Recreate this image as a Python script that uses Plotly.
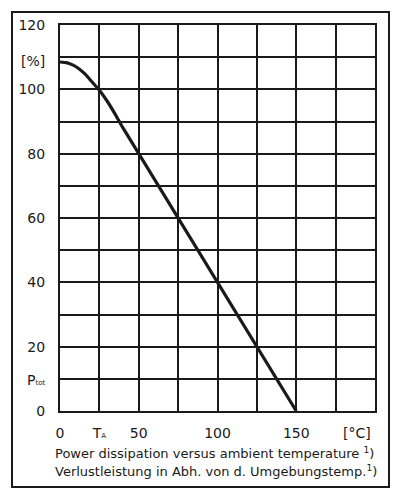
import plotly.graph_objects as go

# Data
temp_c = [0, 4, 8, 12, 16, 20, 25, 30, 35, 40, 150]
ptot_pct = [108.5, 108.3, 107.6, 106.4, 104.7, 102.5, 99.7, 96.3, 92.3, 88.0, 0]

grid_x = [0, 25, 50, 75, 100, 125, 150, 175, 200]
grid_y = [0, 10, 20, 30, 40, 50, 60, 70, 80, 90, 100, 110, 120]

x_tickvals = [0, 25, 50, 100, 150, 188.5]
x_ticktext = ["0", "T<span style='font-size:7px'>A</span>", "50", "100", "150", "[°C]"]
y_tickvals = [0, 9.6, 20, 40, 60, 80, 100, 108.7, 120]
y_ticktext = ["0", "P<span style='font-size:7px'>tot</span>", "20", "40", "60", "80", "100", "[%]", "120"]
caption_lines = [
    "Power dissipation versus ambient temperature <sup>1</sup>)",
    "Verlustleistung in Abh. von d. Umgebungstemp.<sup>1</sup>)",
]

INK = "#1a1a1a"
FONT = "DejaVu Sans"

fig = go.Figure()
fig.add_trace(go.Scatter(
    x=temp_c, y=ptot_pct, mode="lines",
    line=dict(color=INK, width=3.2, shape="spline", smoothing=0.3),
    hoverinfo="skip", showlegend=False,
))

axis_common = dict(
    tickmode="array", showgrid=False, zeroline=False,
    showline=True, mirror=True, linecolor=INK, linewidth=2,
    ticks="", tickfont=dict(size=14, family=FONT, color=INK),
)

fig.update_layout(
    width=395, height=498,
    margin=dict(l=60, r=20, t=25, b=87),
    paper_bgcolor="white", plot_bgcolor="white",
    font=dict(family=FONT, color=INK, size=14),
    xaxis=dict(
        range=[0, 200], tickvals=x_tickvals, ticktext=x_ticktext,
        ticklabelstandoff=8,
        minor=dict(tickmode="array", tickvals=grid_x, showgrid=True,
                   gridcolor=INK, gridwidth=2, ticks=""),
        **axis_common,
    ),
    yaxis=dict(
        range=[0, 120], tickvals=y_tickvals, ticktext=y_ticktext,
        ticklabelstandoff=10,
        minor=dict(tickmode="array", tickvals=grid_y, showgrid=True,
                   gridcolor=INK, gridwidth=2, ticks=""),
        **axis_common,
    ),
    shapes=[dict(
        type="rect", xref="paper", yref="paper",
        x0=-0.1524, x1=1.0444, y0=-0.1969, y1=1.0337,
        line=dict(color=INK, width=2), fillcolor="rgba(0,0,0,0)",
    )],
    annotations=[
        dict(x=-0.0222, y=-0.1088, xref="paper", yref="paper", text=caption_lines[0],
             showarrow=False, xanchor="left", yanchor="middle",
             font=dict(size=13, family=FONT, color=INK)),
        dict(x=-0.0222, y=-0.1554, xref="paper", yref="paper", text=caption_lines[1],
             showarrow=False, xanchor="left", yanchor="middle",
             font=dict(size=13, family=FONT, color=INK)),
    ],
)

fig.write_html("out.html")
